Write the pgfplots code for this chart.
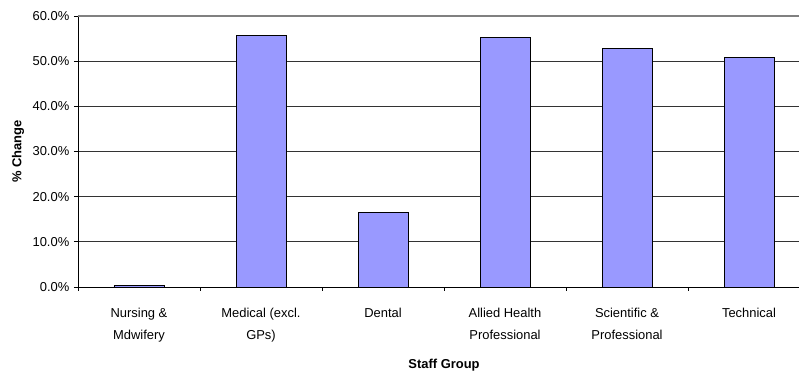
\documentclass[border=0pt]{standalone}
\usepackage{pgfplots}
\pgfplotsset{compat=1.18}
\usepackage{fontspec}
\setmainfont{Liberation Sans}
\definecolor{barblue}{HTML}{9999FF}
\begin{document}
\begin{tikzpicture}
% page frame: 0.75pt per unit of the layout grid
\useasboundingbox (-58.5pt,-65.25pt) rectangle (540.75pt,215.25pt);
\begin{axis}[
  at={(0,0)}, anchor=south west,
  scale only axis,
  width=549pt, height=203.25pt,
  xmin=-0.5, xmax=5.5,
  ymin=0, ymax=60,
  axis x line*=bottom, axis y line*=left,
  axis line style={black, line width=0.7pt},
  xtick={-0.5,0.5,...,5.5},
  x tick label as interval,
  xticklabels={{Nursing \&\\Mdwifery},{Medical (excl.\\GPs)},{Dental},{Allied Health\\Professional},{Scientific \&\\Professional},{Technical}},
  xticklabel style={align=center, font=\fontsize{9.7}{17}\selectfont, yshift=-9pt},
  ytick={0,10,...,60},
  yticklabel={\pgfmathprintnumber[fixed,fixed zerofill,precision=1]{\tick}\%},
  yticklabel style={font=\fontsize{9.7}{11}\selectfont},
  /pgf/number format/assume math mode=true,
  tick align=outside,
  major tick length=3pt,
  tick style={black, line width=0.6pt},
  ymajorgrids,
  grid style={black!80, line width=0.5pt},
  xlabel={Staff Group},
  xlabel style={font=\bfseries\fontsize{9.7}{11}\selectfont, at={(rel axis cs:0.5,-0.288)}, anchor=center},
  ylabel={\% Change},
  ylabel style={font=\bfseries\fontsize{9.7}{11}\selectfont, at={(rel axis cs:-0.082,0.5)}, anchor=center},
]
\addplot[ybar, bar width=37.5pt, fill=barblue, draw=black, line width=0.7pt]
  coordinates {(0,0.3) (1,55.6) (2,16.6) (3,55.2) (4,52.9) (5,50.8)};
\draw[black!50, line width=1pt] (rel axis cs:0,1) -- (rel axis cs:1,1);
\end{axis}
\end{tikzpicture}
\end{document}
